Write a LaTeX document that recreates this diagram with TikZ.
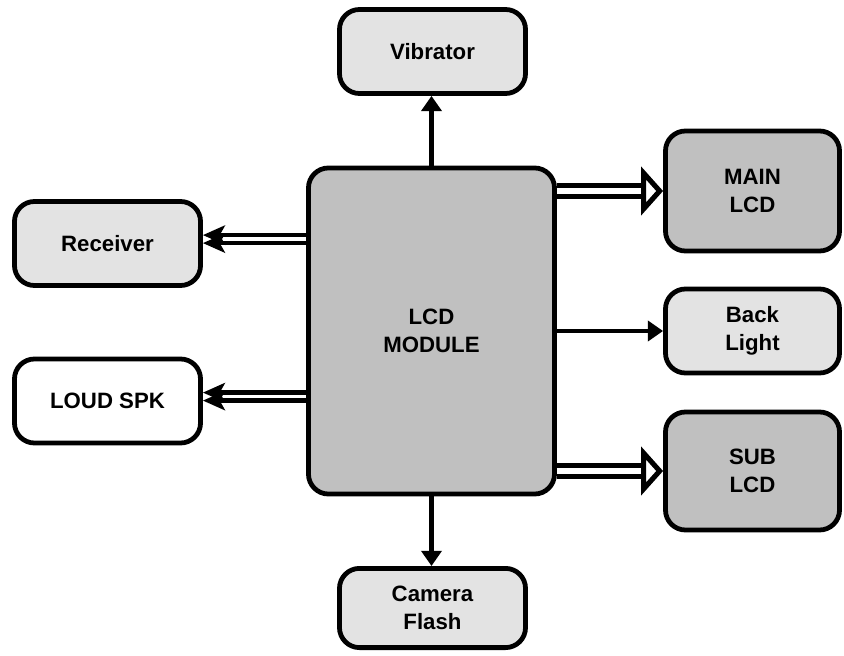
\documentclass[tikz,border=0pt]{standalone}
\usepackage{fontspec}
\setmainfont{Liberation Sans}
\usetikzlibrary{arrows.meta,positioning,calc}
\definecolor{lt}{HTML}{E3E3E3}
\definecolor{dk}{HTML}{C0C0C0}
\tikzset{
  blk/.style={draw=black,line width=3.4pt,rounded corners=0.5cm,align=center,inner sep=2pt,
    font=\bfseries\fontsize{15.8}{20}\selectfont},
  lblk/.style={blk,fill=lt},
  dblk/.style={blk,fill=dk},
  ar/.style={-{Triangle[length=0.38cm,width=0.5cm]},line width=3.3pt},
  sar/.style={-{Stealth[length=0.55cm,width=0.48cm,inset=0.13cm]},line width=3.3pt},
  har/.style={-{Triangle[open,length=0.55cm,width=1.2cm]},double,line width=3.6pt,double distance=0.13cm},
}
\begin{document}
\begin{tikzpicture}[x=0.025cm,y=-0.025cm]
\useasboundingbox (0,0) rectangle (844,656);
% the module in the middle
\node[dblk,minimum width=6.15cm,minimum height=8.15cm] (lcd) at (431.5,331) {LCD\\MODULE};
% top and bottom
\node[lblk,minimum width=4.65cm,minimum height=2.1cm] (vib) at (432.5,51.5) {Vibrator};
\node[lblk,minimum width=4.65cm,minimum height=1.98cm] (cam) at (432.5,608) {Camera\\Flash};
% left side
\node[lblk,minimum width=4.65cm,minimum height=2.1cm] (recv) at (107.5,243.5) {Receiver};
\node[blk,fill=white,minimum width=4.65cm,minimum height=2.1cm] (spk) at (107.5,401) {LOUD SPK};
% right side
\node[dblk,minimum width=4.35cm,minimum height=3cm] (main) at (752.5,191) {MAIN\\LCD};
\node[lblk,minimum width=4.35cm,minimum height=2.1cm] (back) at (752.5,331) {Back\\Light};
\node[dblk,minimum width=4.35cm,minimum height=2.95cm] (sub) at (752.5,471) {SUB\\LCD};

\draw[ar] (lcd.north) -- (lcd.north |- vib.south);
\draw[ar] (lcd.south) -- (lcd.south |- cam.north);
\draw[ar] (lcd.east) -- (back.west);

\draw[har] (lcd.east |- main.west) -- (main.west);
\draw[har] (lcd.east |- sub.west) -- (sub.west);

\foreach \s in {0.21cm,0.01cm}{
  \draw[sar] ([yshift=\s]lcd.west |- recv.east) -- ([yshift=\s]recv.east);
  \draw[sar] ([yshift=\s]lcd.west |- spk.east) -- ([yshift=\s]spk.east);
}
\end{tikzpicture}
\end{document}
